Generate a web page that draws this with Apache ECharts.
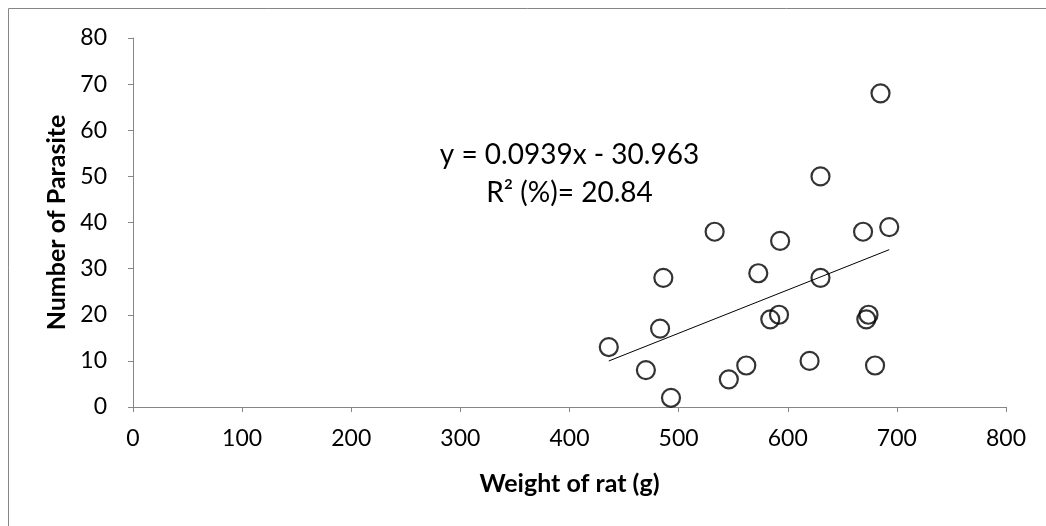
<!DOCTYPE html>
<html>
<head>
<meta charset="utf-8">
<script src="https://cdn.jsdelivr.net/npm/echarts@6/dist/echarts.min.js"></script>
<style>
html,body{margin:0;padding:0;background:#fff;}
#chart{width:1046px;height:526px;}
</style>
</head>
<body>
<div id="chart"></div>
<script>
// Data
const weights = [436, 486, 483, 470, 493, 533, 685, 630, 593, 669, 693, 573, 630, 584, 592, 674, 672, 562, 546, 620, 680];
const parasites = [13, 28, 17, 8, 2, 38, 68, 50, 36, 38, 39, 29, 28, 19, 20, 20, 19, 9, 6, 10, 9];
const xTicks = [0, 100, 200, 300, 400, 500, 600, 700, 800];
const yTicks = [0, 10, 20, 30, 40, 50, 60, 70, 80];
const slope = 0.0939;
const intercept = -30.963;
const equationText = 'y = 0.0939x - 30.963';
const r2Text = 'R\u00B2 (%)= 20.84';
const xTitle = 'Weight of rat (g)';
const yTitle = 'Number of Parasite';

const points = weights.map((w, i) => [w, parasites[i]]);
const xMinData = Math.min(...weights);
const xMaxData = Math.max(...weights);
const trend = [[xMinData, slope * xMinData + intercept], [xMaxData, slope * xMaxData + intercept]];

const FONT = 'Lato';
const axisColor = '#868686';

const chart = echarts.init(document.getElementById('chart'), null, {renderer: 'canvas'});
chart.setOption({
  backgroundColor: '#ffffff',
  animation: false,
  grid: {left: 133, right: 40, top: 38, bottom: 119, containLabel: false},
  xAxis: {
    type: 'value',
    min: xTicks[0],
    max: xTicks[xTicks.length - 1],
    interval: xTicks[1] - xTicks[0],
    name: xTitle,
    nameLocation: 'middle',
    nameGap: 64,
    nameTextStyle: {fontFamily: FONT, fontSize: 25, fontWeight: 'bold', color: '#000'},
    axisLine: {show: true, onZero: false, lineStyle: {color: axisColor, width: 1}},
    axisTick: {show: true, inside: false, length: 5, lineStyle: {color: axisColor}},
    axisLabel: {fontFamily: FONT, fontSize: 23, color: '#000', margin: 20},
    splitLine: {show: false}
  },
  yAxis: {
    type: 'value',
    min: yTicks[0],
    max: yTicks[yTicks.length - 1],
    interval: yTicks[1] - yTicks[0],
    name: yTitle,
    nameLocation: 'middle',
    nameGap: 63,
    nameRotate: 90,
    nameTextStyle: {fontFamily: FONT, fontSize: 25, fontWeight: 'bold', color: '#000'},
    axisLine: {show: true, onZero: false, lineStyle: {color: axisColor, width: 1}},
    axisTick: {show: true, inside: false, length: 5, lineStyle: {color: axisColor}},
    axisLabel: {fontFamily: FONT, fontSize: 23, color: '#000', margin: 26},
    splitLine: {show: false}
  },
  series: [
    {
      type: 'scatter',
      data: points,
      symbol: 'circle',
      symbolSize: 18,
      itemStyle: {color: 'rgba(0,0,0,0)', borderColor: '#000', borderWidth: 2.2},
      z: 3
    },
    {
      type: 'line',
      data: trend,
      symbol: 'none',
      lineStyle: {color: '#000', width: 1},
      z: 2
    }
  ]
});

// annotation text centred over the plot
const cx = (chart.convertToPixel({xAxisIndex: 0}, xTicks[0]) + chart.convertToPixel({xAxisIndex: 0}, xTicks[xTicks.length - 1])) / 2;
chart.setOption({
  graphic: [
    {type: 'line', shape: {x1: 8.5, y1: 8.5, x2: 1046, y2: 8.5}, style: {stroke: axisColor, lineWidth: 1}, silent: true},
    {type: 'line', shape: {x1: 8.5, y1: 8.5, x2: 8.5, y2: 526}, style: {stroke: axisColor, lineWidth: 1}, silent: true},
    {type: 'text', x: cx, y: 155, style: {text: equationText, fontFamily: FONT, fontSize: 28, fill: '#000', align: 'center', verticalAlign: 'middle'}, silent: true},
    {type: 'text', x: cx, y: 193, style: {text: r2Text, fontFamily: FONT, fontSize: 28, fill: '#000', align: 'center', verticalAlign: 'middle'}, silent: true}
  ]
});
</script>
</body>
</html>
